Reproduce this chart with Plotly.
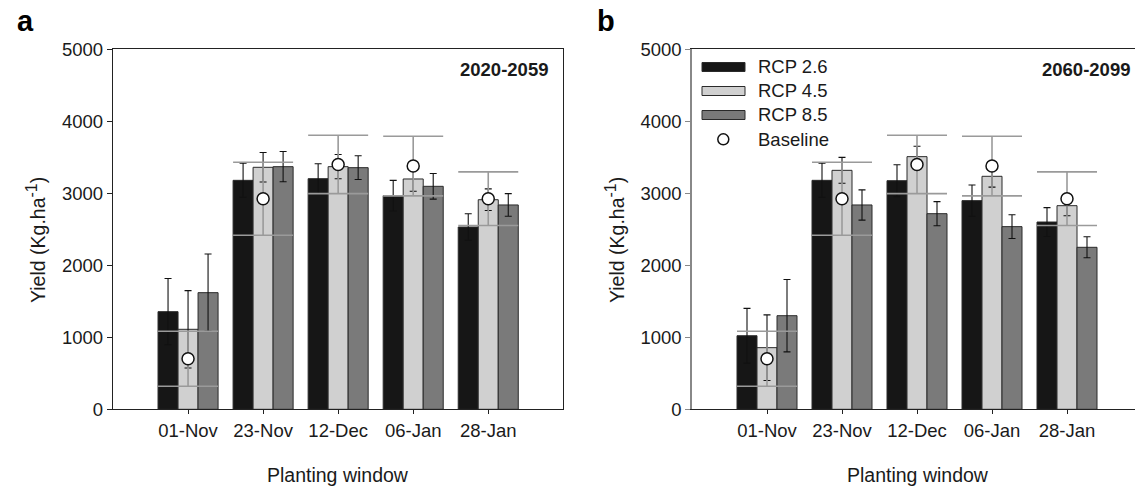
import plotly.graph_objects as go

W, H = 1135, 486

# ---------------- data ----------------
windows = ["01-Nov", "23-Nov", "12-Dec", "06-Jan", "28-Jan"]
series_names = ["RCP 2.6", "RCP 4.5", "RCP 8.5"]
baseline_name = "Baseline"

# 2020-2059
a_rcp26 = [1356, 3180, 3203, 2967, 2532]
a_rcp26_err = [460, 237, 208, 213, 185]
a_rcp45 = [1111, 3361, 3370, 3199, 2911]
a_rcp45_err = [537, 205, 168, 170, 150]
a_rcp85 = [1620, 3370, 3356, 3097, 2838]
a_rcp85_err = [537, 210, 165, 178, 157]

# 2060-2099
b_rcp26 = [1022, 3180, 3175, 2898, 2601]
b_rcp26_err = [380, 237, 222, 218, 200]
b_rcp45 = [856, 3319, 3509, 3236, 2828]
b_rcp45_err = [455, 180, 145, 150, 140]
b_rcp85 = [1300, 2838, 2717, 2537, 2250]
b_rcp85_err = [503, 210, 167, 165, 146]

baseline = [702, 2925, 3401, 3378, 2925]
baseline_err = [382, 507, 405, 414, 373]

y_ticks = [0, 1000, 2000, 3000, 4000, 5000]
period_a = "2020-2059"
period_b = "2060-2099"

# ---------------- styles ----------------
bar_colors = ["#161616", "#d0d0d0", "#7a7a7a"]
FONT = "Liberation Sans, Arial, Helvetica, sans-serif"
FS = 18.5
FS_TITLE = 19.5
TXT = "#1a1a1a"


def fx(px):
    return px / W


def fy(py):
    return 1 - py / H


fig = go.Figure()
xpos = list(range(len(windows)))

panels = [
    ("x", "y", [a_rcp26, a_rcp45, a_rcp85], [a_rcp26_err, a_rcp45_err, a_rcp85_err]),
    ("x2", "y2", [b_rcp26, b_rcp45, b_rcp85], [b_rcp26_err, b_rcp45_err, b_rcp85_err]),
]

for xa, ya, vals, errs in panels:
    for name, v, e, c in zip(series_names, vals, errs, bar_colors):
        fig.add_trace(go.Bar(
            x=xpos, y=v, name=name, xaxis=xa, yaxis=ya,
            marker=dict(color=c, line=dict(color="#2a2a2a", width=1)),
            error_y=dict(type="data", array=e, visible=True, color="#111111",
                         thickness=1.1, width=3.5),
            showlegend=False,
        ))
    fig.add_trace(go.Scatter(
        x=xpos, y=baseline, name=baseline_name, mode="markers", xaxis=xa, yaxis=ya,
        marker=dict(symbol="circle", size=12, color="white",
                    line=dict(color="#111111", width=1.5)),
        error_y=dict(type="data", array=baseline_err, visible=True, color="#9a9a9a",
                     thickness=1.6, width=30),
        showlegend=False,
    ))

ydom = [fy(409.3), fy(49.3)]
xa_dom = [fx(113), fx(563.3)]
xb_dom = [fx(692), 1.0]
xb_right = (W - 692) / 75.0 - 1

common_x = dict(
    tickmode="array", tickvals=xpos, ticktext=windows,
    showline=True, mirror=True, linecolor="#222222", linewidth=1.3,
    ticks="outside", ticklen=4, tickcolor="#222222", tickwidth=1,
    showgrid=False, zeroline=False, automargin=False,
    tickfont=dict(family=FONT, size=FS, color=TXT),
)
common_y = dict(
    range=[0, 5000], tickmode="array", tickvals=y_ticks,
    ticks="outside", ticklen=5, tickwidth=1,
    showgrid=False, zeroline=False, automargin=False,
    tickfont=dict(family=FONT, size=FS, color=TXT),
)

fig.update_layout(
    template="none",
    width=W, height=H, autosize=False,
    margin=dict(l=0, r=0, t=0, b=0, pad=0, autoexpand=False),
    paper_bgcolor="white", plot_bgcolor="white",
    barmode="group", bargap=0.2, bargroupgap=0,
    showlegend=False,
    font=dict(family=FONT, size=FS, color=TXT),
    xaxis=dict(domain=xa_dom, range=[-1, 5], anchor="y", **common_x),
    xaxis2=dict(domain=xb_dom, range=[-1, xb_right], anchor="y2", **common_x),
    yaxis=dict(domain=ydom, anchor="x", showline=True, mirror=True,
               linecolor="#222222", linewidth=1.3, tickcolor="#222222", **common_y),
    yaxis2=dict(domain=ydom, anchor="x2", showline=True, mirror=False,
                linecolor="#888888", linewidth=1.5, tickcolor="#888888", **common_y),
)

ann = []
# period labels
ann.append(dict(text="<b>%s</b>" % period_a, x=fx(550), y=fy(69.5), xref="paper", yref="paper",
                xanchor="right", yanchor="middle", showarrow=False,
                font=dict(family=FONT, size=FS, color=TXT)))
ann.append(dict(text="<b>%s</b>" % period_b, x=fx(1132), y=fy(69.5), xref="paper", yref="paper",
                xanchor="right", yanchor="middle", showarrow=False,
                font=dict(family=FONT, size=FS, color=TXT)))
# panel letters
ann.append(dict(text="<b>a</b>", x=fx(25), y=fy(21), xref="paper", yref="paper",
                xanchor="center", yanchor="middle", showarrow=False,
                font=dict(family=FONT, size=29, color="#000000")))
ann.append(dict(text="<b>b</b>", x=fx(606), y=fy(21), xref="paper", yref="paper",
                xanchor="center", yanchor="middle", showarrow=False,
                font=dict(family=FONT, size=29, color="#000000")))
# axis titles
ytitle = "Yield (Kg.ha<sup><span style='font-size:16px'>-1</span></sup>)"
for cx in (36, 615):
    ann.append(dict(text=ytitle, x=fx(cx), y=fy(240), xref="paper", yref="paper",
                    xanchor="center", yanchor="middle", textangle=-90, showarrow=False,
                    font=dict(family=FONT, size=FS_TITLE, color=TXT)))
for cx in (338.3, 917.7):
    ann.append(dict(text="Planting window", x=fx(cx), y=fy(475), xref="paper", yref="paper",
                    xanchor="center", yanchor="middle", showarrow=False,
                    font=dict(family=FONT, size=FS_TITLE, color=TXT)))

# legend (panel b)
shapes = []
rows = [67, 91, 115, 139.3]
for name, c, cy in zip(series_names, bar_colors, rows[:3]):
    shapes.append(dict(type="rect", xref="paper", yref="paper",
                       x0=fx(702), x1=fx(745), y0=fy(cy + 4.5), y1=fy(cy - 4.5),
                       fillcolor=c, line=dict(color="#2a2a2a", width=1)))
    ann.append(dict(text=name, x=fx(756), y=fy(cy), xref="paper", yref="paper",
                    xanchor="left", yanchor="middle", showarrow=False,
                    font=dict(family=FONT, size=FS, color=TXT)))
shapes.append(dict(type="circle", xref="paper", yref="paper",
                   x0=fx(723.3 - 5.5), x1=fx(723.3 + 5.5),
                   y0=fy(rows[3] + 5.5), y1=fy(rows[3] - 5.5),
                   fillcolor="white", line=dict(color="#111111", width=1.5)))
ann.append(dict(text=baseline_name, x=fx(756), y=fy(rows[3]), xref="paper", yref="paper",
                xanchor="left", yanchor="middle", showarrow=False,
                font=dict(family=FONT, size=FS, color=TXT)))

fig.update_layout(annotations=ann, shapes=shapes)

post = ("document.documentElement.style.margin='0';"
        "document.documentElement.style.overflow='hidden';"
        "document.body.style.margin='0';document.body.style.padding='0';"
        "document.body.style.overflow='hidden';")
fig.write_html("out.html", config={"responsive": False, "displayModeBar": False},
               post_script=post)
